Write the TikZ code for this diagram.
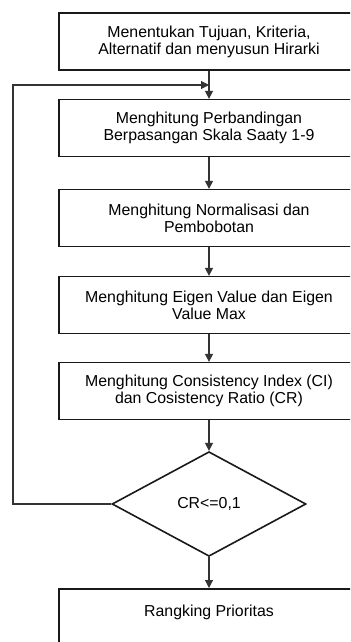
\documentclass[tikz,border=0pt]{standalone}
\usepackage{fontspec}
\setmainfont{Liberation Sans}
\usetikzlibrary{shapes.geometric,arrows.meta}

\begin{document}
\begin{tikzpicture}[x=0.75pt,y=-0.75pt,
	box/.style={draw=black!90,line width=1.2pt,minimum width=225pt,minimum height=42.5pt,align=center,text=black,font=\fontsize{11.9}{12.6}\selectfont},
	tip/.style={-{Triangle[length=6pt,width=6pt]},draw=black!80,line width=0.8pt}]
	\useasboundingbox (0,0) rectangle (350,642);
	\clip (0,0) rectangle (350,642);
	\node [box] (P0) at (209,41.5) {Menentukan Tujuan, Kriteria,\\Alternatif dan menyusun Hirarki};
	\node [box] (P1) at (209,128) {Menghitung Perbandingan\\Berpasangan Skala Saaty 1-9};
	\node [box] (P2) at (209,218) {Menghitung Normalisasi dan\\Pembobotan};
	\node [box] (P3) at (209,305) {Menghitung Eigen Value dan Eigen\\Value Max};
	\node [box] (P4) at (209,391) {Menghitung Consistency Index (CI)\\dan Cosistency Ratio (CR)};
	\node [draw=black!90,line width=1.2pt,diamond,inner sep=0pt,minimum width=145.5pt,minimum height=78.5pt,text=black,font=\fontsize{11.9}{12.6}\selectfont] (P5) at (209,504) {CR<=0,1};
	\node [box,anchor=north] (P6) at (209,588) {\raisebox{9pt}{Rangking Prioritas}};
	\coordinate (P00) at (13,85);
	\coordinate (P01) at (209,85);
	\draw
	(P0) edge[tip] (P1)
	(P1) edge[tip] (P2)
	(P2) edge[tip] (P3)
	(P3) edge[tip] (P4)
	(P4) edge[tip] (P5)
	(P5) edge[tip] (P6);
	\draw [tip] (P5.west) -- (P5.west -| P00) -- (P00) -- (P01);
	\end{tikzpicture}
\end{document}
